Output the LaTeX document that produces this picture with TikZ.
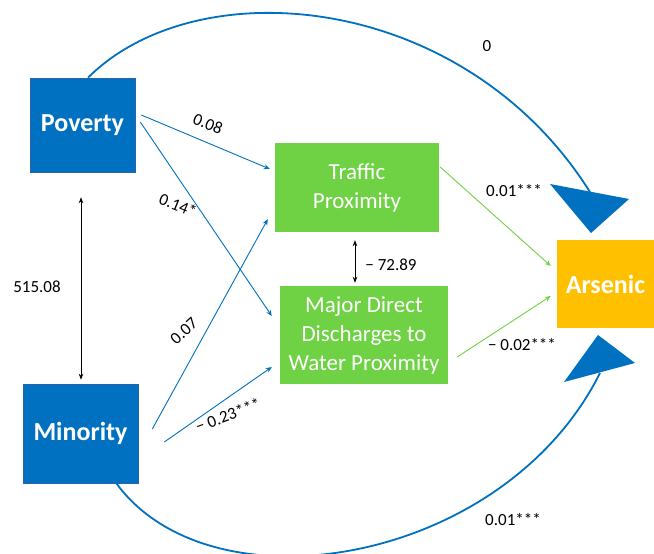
\documentclass[tikz,border=0pt]{standalone}
\usepackage{fontspec}
\setmainfont{Carlito}
\usetikzlibrary{arrows.meta,calc}
\definecolor{cblue}{HTML}{0070C0}
\definecolor{cbord}{HTML}{2E62A8}
\definecolor{cgreen}{HTML}{6FD144}
\definecolor{corange}{HTML}{FFC000}
\begin{document}
\begin{tikzpicture}[x=1pt,y=1pt,
  bluebox/.style={fill=cblue, draw=cbord, line width=0.6pt, text=white, inner sep=0pt,
    font=\fontsize{26}{30}\selectfont\bfseries},
  greenbox/.style={fill=cgreen, text=white, inner sep=0pt, align=center,
    font=\fontsize{23}{29}\selectfont},
  orangebox/.style={fill=corange, text=white, inner sep=0pt,
    font=\fontsize{26}{30}\selectfont\bfseries},
  barrow/.style={cblue, line width=0.9pt, -{Stealth[length=6pt,width=5pt]}},
  garrow/.style={cgreen, line width=0.9pt, -{Stealth[length=6pt,width=5pt]}},
  karrow/.style={black, line width=0.8pt, {Stealth[length=6pt,width=4.5pt]}-{Stealth[length=6pt,width=4.5pt]}},
  bigarc/.style={cblue, line width=1.8pt},
  lab/.style={font=\fontsize{17}{20}\selectfont, inner sep=0pt, text=black}
]
\useasboundingbox (0,0) rectangle (654,-554);

% nodes
\node[bluebox, minimum width=105pt, minimum height=94pt] (pov) at (82.5,-125) {Poverty};
\node[bluebox, minimum width=115pt, minimum height=99pt] (min) at (80.5,-433.5) {Minority};
\node[greenbox, minimum width=164pt, minimum height=89pt] (traf) at (357,-187.5) {Traffic\\Proximity};
\node[greenbox, minimum width=168pt, minimum height=98pt] (maj) at (364,-335) {Major Direct\\Discharges to\\Water Proximity};
\node[orangebox, minimum width=97pt, minimum height=88pt] (ars) at (605.5,-284) {Arsenic};

% large curved paths
\coordinate (topend) at (590,-192);
\coordinate (botend) at (600,-373);
\draw[bigarc] ([xshift=5.5pt]pov.north) .. controls (198,32) and (464,8) .. (topend);
\fill[cblue] (550,-184) -- (629,-199) -- (591,-233) -- cycle;
\draw[bigarc] ([xshift=25.5pt,yshift=-33.5pt]min.center) .. controls (188,-617) and (500,-573) .. (botend);
\fill[cblue] (598,-335) -- (635,-363) -- (564,-382) -- cycle;

% straight arrows
\draw[barrow] ([xshift=6pt,yshift=10pt]pov.east) -- ([xshift=-5pt,yshift=18.5pt]traf.west);
\draw[barrow] ([xshift=5pt,yshift=3pt]pov.east) -- ([xshift=-8pt,yshift=19pt]maj.west);
\draw[barrow] ([xshift=14pt,yshift=4.5pt]min.east) -- ([xshift=-7pt,yshift=13pt]traf.south west);
\draw[barrow] ([xshift=26pt,yshift=-8.5pt]min.east) -- ([xshift=-8pt,yshift=-32pt]maj.west);
\draw[garrow] ([xshift=1pt,yshift=20.5pt]traf.east) -- ([xshift=-6pt,yshift=18pt]ars.west);
\draw[garrow] ([xshift=9pt,yshift=-22pt]maj.east) -- ([xshift=-6pt,yshift=-12pt]ars.west);
\draw[karrow] ([xshift=-1.5pt,yshift=-25pt]pov.south) -- ([xshift=0.5pt,yshift=4pt]min.north);
\draw[karrow] ([xshift=-2pt,yshift=-8pt]traf.south) -- ([xshift=-9pt,yshift=3pt]maj.north);

% labels
\node[lab] (l0) at (487,-46) {0};
\node[lab, rotate=-22] (l1) at (208,-124) {0.08};
\node[lab, rotate=-22] (l2) at (178,-205) {0.14*};
\node[lab] (l3) at (37,-287) {515.08};
\node[lab, rotate=42] (l4) at (184,-331) {0.07};
\node[lab, rotate=20] (l5) at (228,-415) {− 0.23***};
\node[lab] (l6) at (514,-191) {0.01***};
\node[lab] (l7) at (391,-265) {− 72.89};
\node[lab] (l8) at (522,-345) {− 0.02***};
\node[lab] (l9) at (513,-520) {0.01***};
\end{tikzpicture}
\end{document}
